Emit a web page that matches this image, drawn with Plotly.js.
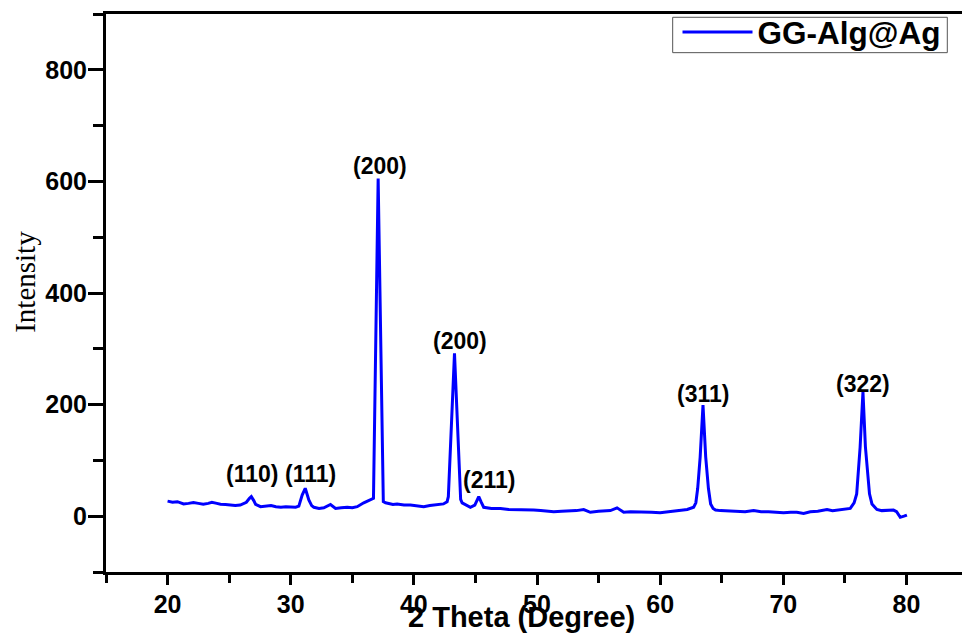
<!DOCTYPE html>
<html>
<head>
<meta charset="utf-8">
<script src="https://cdn.plot.ly/plotly-3.0.1.min.js"></script>
<style>
html,body{margin:0;padding:0;overflow:hidden;background:#fff;}
#chart{width:970px;height:637px;}
</style>
</head>
<body>
<div id="chart"></div>
<script>
// ---- data ----
var seriesName = "GG-Alg@Ag";
var twoTheta = [
  20.0, 20.4, 20.8, 21.3, 21.7, 22.1, 22.5, 22.9, 23.3, 23.6,
  24.0, 24.3, 24.7, 25.1, 25.5, 25.9, 26.4, 26.65, 26.8, 27.0,
  27.15, 27.55, 28.0, 28.4, 28.8, 29.2, 29.6, 30.0, 30.4, 30.66,
  30.93, 31.18, 31.3, 31.47, 31.7, 31.88, 32.3, 32.69, 33.23, 33.64,
  34.1, 34.59, 35.0, 35.4, 35.93, 36.48, 36.72, 37.10, 37.52, 37.7,
  37.96, 38.3, 38.64, 39.2, 39.72, 40.3, 40.8, 41.3, 41.9, 42.4,
  42.7, 42.8, 43.3, 43.8, 43.92, 44.2, 44.59, 44.95, 45.15, 45.27,
  45.45, 45.67, 46.3, 47.03, 47.7, 48.38, 48.65, 49.2, 49.73, 50.3,
  51.09, 51.36, 52.0, 52.6, 53.2, 53.79, 54.33, 55.0, 55.5, 55.96,
  56.5, 57.04, 57.6, 58.1, 58.66, 59.3, 60.0, 60.6, 61.1, 61.64,
  62.2, 62.72, 62.9, 63.05, 63.25, 63.48, 63.7, 63.92, 64.1, 64.3,
  64.5, 64.89, 65.5, 66.24, 66.9, 67.59, 68.2, 68.8, 69.4, 70.02,
  70.6, 71.1, 71.65, 72.19, 72.8, 73.55, 74.0, 74.36, 74.9, 75.44,
  75.75, 75.96, 76.24, 76.47, 76.67, 77.0, 77.2, 77.6, 78.0, 78.4,
  78.95, 79.2, 79.5, 79.8, 80.04
];
var intensity = [
  27, 25, 26, 22, 23, 24.5, 23, 21.5, 23, 25,
  23, 21.5, 21, 20, 19, 20, 25, 32, 35, 28,
  21, 17, 18, 19, 17, 16, 17, 17, 16, 18,
  38, 50, 42, 29, 19, 16, 14, 15, 21, 14,
  15, 16, 15, 17, 24, 29, 32, 605, 26, 24,
  23, 21, 22, 20, 20, 18, 17, 19, 20, 22,
  26, 35, 292, 30, 24, 20, 16, 20, 31, 35,
  26, 16, 14, 14, 12, 12, 11, 11, 11, 10,
  9, 8, 9, 9, 10, 12, 7, 9, 9, 10,
  15, 7, 8, 8, 8, 7, 6, 8, 9, 11,
  12, 16, 24, 50, 106, 199, 106, 50, 22, 14,
  11, 10, 9, 8, 8, 10, 8, 8, 7, 6,
  7, 7, 5, 8, 9, 12, 10, 11, 12, 14,
  24, 40, 124, 223, 124, 40, 22, 12, 10, 10,
  11, 8, -2, 0, 2
];
var peakLabels = ["(110)", "(111)", "(200)", "(200)", "(211)", "(311)", "(322)"];
var peakLabelX = [26.82, 31.61, 37.27, 43.71, 46.14, 63.5, 76.5];
var peakLabelY = [75, 75, 628, 314, 65, 219, 237];
var xTitle = "2 Theta (Degree)";
var yTitle = "Intensity";

// ---- styling ----
var sansFamily = "Liberation Sans, Arial, sans-serif";
var tickFont = {family: sansFamily, size: 25, color: "#000", weight: "bold"};

var trace = {
  x: twoTheta, y: intensity, type: "scatter", mode: "lines",
  name: seriesName,
  line: {color: "#0000ff", width: 3}
};

var annotations = peakLabels.map(function (t, i) {
  return {x: peakLabelX[i], y: peakLabelY[i], xref: "x", yref: "y", text: t,
    showarrow: false, xanchor: "center", yanchor: "middle",
    font: {family: sansFamily, size: 23, color: "#000", weight: "bold"}};
});
annotations.push({xref: "paper", yref: "paper", x: 0.482, y: -0.081, text: xTitle,
  showarrow: false, xanchor: "center", yanchor: "middle",
  font: {family: sansFamily, size: 29, color: "#000", weight: "bold"}});
annotations.push({xref: "paper", yref: "paper", x: -0.094, y: 0.52, text: yTitle,
  showarrow: false, xanchor: "center", yanchor: "middle", textangle: -90,
  font: {family: "Liberation Serif, Times New Roman, serif", size: 29, color: "#000"}});

var layout = {
  width: 970, height: 637,
  margin: {l: 106, r: 2, t: 14, b: 65},
  paper_bgcolor: "#fff", plot_bgcolor: "#fff",
  showlegend: true,
  legend: {x: 0.663, y: 1.016, xanchor: "left", yanchor: "top",
    bgcolor: "rgba(0,0,0,0)", borderwidth: 0,
    font: {family: sansFamily, size: 31.5, color: "#000", weight: "bold"},
    itemwidth: 70},
  shapes: [{type: "rect", xref: "paper", yref: "paper",
    x0: 0.6574, x1: 0.976, y0: 0.9307, y1: 0.9941,
    line: {color: "#555", width: 1}, fillcolor: "rgba(0,0,0,0)", layer: "above"}],
  xaxis: {range: [15, 85], tick0: 20, dtick: 10, ticks: "outside", ticklen: 10, tickwidth: 3,
    tickcolor: "#000", showline: true, linewidth: 3, linecolor: "#000", mirror: true,
    showgrid: false, zeroline: false, tickfont: tickFont, ticklabelstandoff: -2,
    minor: {dtick: 5, tick0: 15, ticks: "outside", ticklen: 8, tickwidth: 3, tickcolor: "#000", showgrid: false}},
  yaxis: {range: [-100, 900], tick0: 0, dtick: 200, ticks: "outside", ticklen: 15, tickwidth: 3,
    tickcolor: "#000", showline: true, linewidth: 3, linecolor: "#000", mirror: true,
    showgrid: false, zeroline: false, tickfont: tickFont, ticklabelstandoff: -4,
    minor: {dtick: 100, tick0: 0, ticks: "outside", ticklen: 10, tickwidth: 3, tickcolor: "#000", showgrid: false}},
  annotations: annotations
};

Plotly.newPlot("chart", [trace], layout, {displayModeBar: false, staticPlot: true});
</script>
</body>
</html>
